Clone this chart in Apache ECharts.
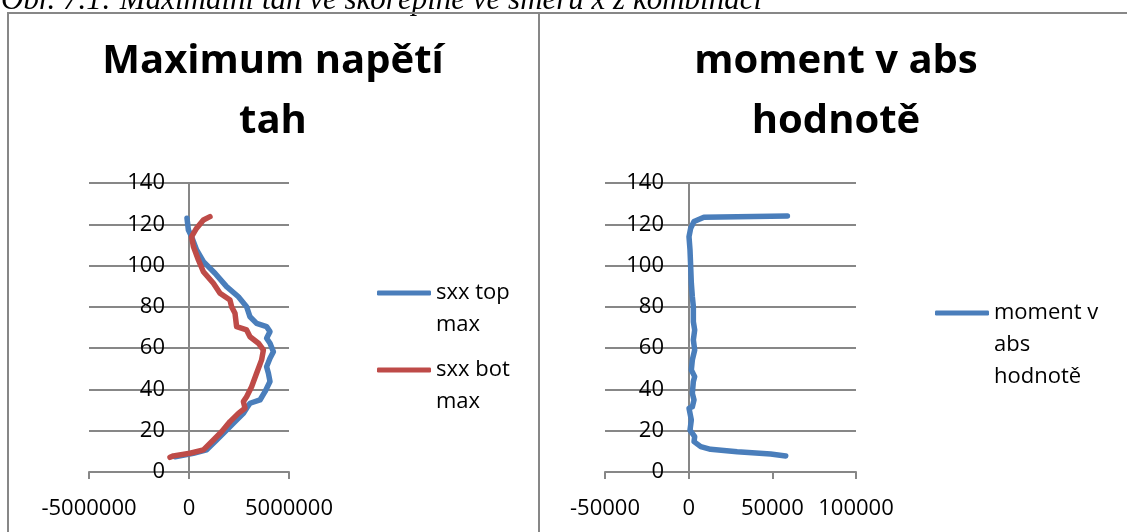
<!DOCTYPE html>
<html>
<head>
<meta charset="utf-8">
<script src="https://cdn.jsdelivr.net/npm/echarts@6/dist/echarts.min.js"></script>
<style>
html,body{margin:0;padding:0;background:#fff;}
#c{width:1127px;height:532px;}
</style>
</head>
<body>
<div id="c"></div>
<script>
// ---- data ----
const caption = 'Obr. 7.1: Maximální tah ve skořepině ve směru x z kombinací';
const titleLeft = 'Maximum napětí\ntah';
const titleRight = 'moment v abs\nhodnotě';
const nameTop = 'sxx top max';
const nameBot = 'sxx bot max';
const nameMom = 'moment v abs hodnotě';

const topH = [122.9, 117.2, 114, 107.6, 101.9, 96.3, 89.8, 84.9, 80.1, 75.2, 72.0, 70.4, 68.0, 64.8, 62.4, 58.3, 55.1, 51.0, 47.8, 43.8, 38.9, 34.9, 33.3, 30.9, 28.4, 25.2, 20.3, 15.5, 10.7, 9.1, 7.4];
const topV = [-100000, -30000, 130000, 380000, 720000, 1300000, 1880000, 2470000, 2880000, 3050000, 3380000, 3880000, 4050000, 3880000, 4050000, 4220000, 4050000, 3880000, 3970000, 4050000, 3800000, 3550000, 3050000, 2880000, 2720000, 2380000, 1880000, 1380000, 880000, 220000, -700000];

const botH = [123.7, 122.1, 118.1, 114, 109.2, 102.7, 97.0, 91.4, 86.6, 83.3, 80.1, 76.9, 70.4, 68.8, 65.5, 62.4, 59.1, 54.3, 47.8, 41.3, 36.5, 34.1, 30.9, 28.4, 24.4, 19.5, 15.5, 10.7, 9.1, 7.8, 7.1];
const botV = [1050000, 720000, 380000, 130000, 220000, 470000, 720000, 1220000, 1550000, 2050000, 2130000, 2300000, 2380000, 2880000, 3050000, 3470000, 3720000, 3630000, 3380000, 3130000, 2880000, 2720000, 2800000, 2470000, 2050000, 1630000, 1220000, 720000, 50000, -780000, -950000];

const momH = [7.8, 8.7, 9.8, 11, 12.3, 14.7, 17.1, 18.7, 20.3, 25.2, 30.9, 31.6, 34.9, 38.1, 43.8, 46.2, 49.4, 54.3, 59.1, 64, 68.8, 72.8, 80.1, 84.9, 91.4, 99.5, 107.6, 114, 118.1, 121.3, 123.4, 123.7, 124];
const momV = [58000, 49000, 29000, 13100, 7200, 3200, 3600, 2200, 800, 1600, 200, 2200, 3200, 2200, 2800, 3600, 1600, 2200, 3600, 2800, 3600, 2800, 2800, 2200, 1600, 1200, 800, 200, 1200, 3200, 9100, 29000, 59000];

const leftX = {min: -5000000, max: 5000000, interval: 5000000};
const rightX = {min: -50000, max: 100000, interval: 50000};
const yAxisRange = {min: 0, max: 140, interval: 20};

// ---- styles ----
const FONT = '"Open Sans", "Noto Sans", sans-serif';
const GRAY = '#878787';
const BLUE = '#4a7ebb';
const RED = '#be4b48';

const pairs = (xs, ys) => xs.map((x, i) => [x, ys[i]]);

const axisTextStyle = {color: '#000', fontFamily: FONT, fontSize: 22};

function xAx(gi, r) {
  return {
    type: 'value', gridIndex: gi, min: r.min, max: r.max, interval: r.interval,
    axisLine: {show: true, onZero: false, lineStyle: {color: GRAY, width: 2}},
    axisTick: {show: true, length: 7, lineStyle: {color: GRAY, width: 2}},
    splitLine: {show: false},
    axisLabel: Object.assign({margin: 26, formatter: v => String(v)}, axisTextStyle)
  };
}
function yAx(gi, labelMargin) {
  return {
    type: 'value', gridIndex: gi, min: yAxisRange.min, max: yAxisRange.max, interval: yAxisRange.interval,
    axisLine: {show: true, onZero: true, lineStyle: {color: GRAY, width: 2}},
    axisTick: {show: false},
    splitLine: {show: true, lineStyle: {color: GRAY, width: 2}},
    axisLabel: Object.assign({margin: labelMargin, formatter: v => String(v)}, axisTextStyle)
  };
}
function line(name, xs, ys, color, gi) {
  return {
    name, type: 'line', xAxisIndex: gi, yAxisIndex: gi,
    data: pairs(xs, ys), showSymbol: false, symbol: 'none',
    color: color,
    lineStyle: {color, width: 5.5, cap: 'round', join: 'round'},
    z: 3
  };
}
const legendText = {color: '#000', fontFamily: FONT, fontSize: 22, lineHeight: 32};
const titleText = {fontFamily: FONT, fontWeight: 'bold', fontSize: 40, lineHeight: 60, color: '#000'};

const chart = echarts.init(document.getElementById('c'), null, {renderer: 'canvas'});
chart.setOption({
  animation: false,
  backgroundColor: '#fff',
  title: [
    {text: titleLeft, left: 273, top: 32, textAlign: 'center', padding: 0, textStyle: titleText},
    {text: titleRight, left: 836, top: 32, textAlign: 'center', padding: 0, textStyle: titleText}
  ],
  legend: [
    {data: [nameTop, nameBot], orient: 'vertical', left: 377, top: 245, padding: 0,
     itemWidth: 54, itemHeight: 5, itemGap: -19, icon: 'roundRect',
     formatter: n => '\n' + n.replace(' max', '\nmax'),
     textStyle: legendText},
    {data: [nameMom], orient: 'vertical', left: 935, top: 233, padding: 0,
     itemWidth: 54, itemHeight: 5, icon: 'roundRect',
     formatter: n => '\n\nmoment v\nabs\nhodnotě',
     textStyle: legendText}
  ],
  grid: [
    {left: 89, top: 183, width: 200, height: 289, containLabel: false},
    {left: 605, top: 183, width: 251, height: 289, containLabel: false}
  ],
  xAxis: [xAx(0, leftX), xAx(1, rightX)],
  yAxis: [yAx(0, -76), yAx(1, -59)],
  series: [
    line(nameTop, topV, topH, BLUE, 0),
    line(nameBot, botV, botH, RED, 0),
    line(nameMom, momV, momH, BLUE, 1)
  ],
  graphic: [
    {type: 'text', left: 1, top: -15, z: 10,
     style: {text: caption, font: 'italic 31px "Liberation Serif", serif', fill: '#000'}},
    {type: 'polyline', z: 10, shape: {points: [[8, 532], [8, 13], [1127, 13]]},
     style: {stroke: GRAY, lineWidth: 2, fill: null}},
    {type: 'line', z: 10, shape: {x1: 539, y1: 13, x2: 539, y2: 532},
     style: {stroke: GRAY, lineWidth: 2}}
  ]
});
</script>
</body>
</html>
